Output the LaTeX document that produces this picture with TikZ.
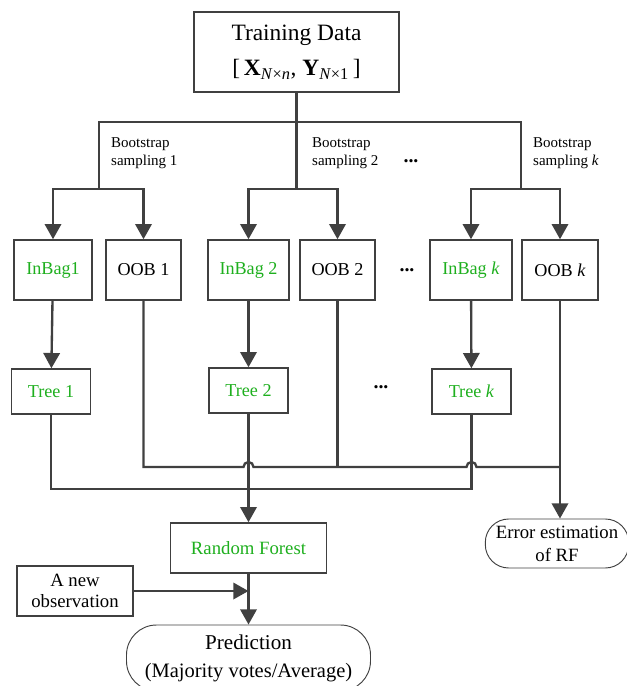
\documentclass[tikz,border=0pt]{standalone}
\usepackage{fontspec}
\setmainfont{Liberation Serif}
\usepackage{tikz}
\usetikzlibrary{arrows.meta, positioning, calc}
\usepackage{xcolor}
\definecolor{rfgray}{RGB}{64,64,64}
\definecolor{rfgreen}{RGB}{30,175,30}

\begin{document}
\begin{tikzpicture}[x=0.03cm,y=-0.03cm,
  box/.style={rectangle,draw=rfgray,line width=1.3pt,font=\fontsize{15.5}{18}\selectfont,
              minimum width=2.3cm,minimum height=1.8cm,inner sep=1pt,align=center},
  gbox/.style={box,text=rfgreen},
  tbox/.style={gbox,minimum width=2.36cm,minimum height=1.35cm},
  capsule/.style={rectangle,rounded corners=#1,draw=rfgray,line width=0.8pt,
                  font=\fontsize{16}{19.5}\selectfont,align=center,inner sep=1pt},
  lbl/.style={font=\fontsize{12.8}{15.5}\selectfont,align=left,anchor=west,inner sep=0pt},
  dots/.style={font=\fontsize{17}{17}\selectfont\bfseries,inner sep=0pt},
  line/.style={rfgray,line width=2pt},
  arr/.style={line,-{Triangle[width=14pt,length=13pt]}}
]
\useasboundingbox (0,0) rectangle (627,686);

% training data and bootstrap split
\node[box,font=\fontsize{20}{30}\selectfont,minimum width=6.15cm,minimum height=2.4cm] (train) at (296.5,52)
  {Training Data\\{[}\,\textbf{X}\textsubscript{\textit{N}×\textit{n}}, \textbf{Y}\textsubscript{\textit{N}×1}\,{]}};
\coordinate (h1) at (99,122);
\coordinate (hk) at (521,122);
\coordinate (s1) at (99,189);
\coordinate (s2) at (296.5,189);
\coordinate (sk) at (521,189);

\node[lbl] (lab1) at (111,153) {Bootstrap\\sampling 1};
\node[lbl] (lab2) at (312,153) {Bootstrap\\sampling 2};
\node[lbl] (labk) at (533,153) {Bootstrap\\sampling \textit{k}};
\node[dots] (dots1) at (411,161) {...};

% bags
\node[gbox,minimum width=2.34cm] (inbag1) at (53,270) {InBag1};
\node[box,minimum width=2.25cm] (oob1) at (143.5,270) {OOB 1};
\node[gbox,minimum width=2.43cm] (inbag2) at (248.5,270) {InBag 2};
\node[box,minimum width=2.25cm] (oob2) at (337.5,270) {OOB 2};
\node[dots] (dots2) at (407,270) {...};
\node[gbox,minimum width=2.46cm] (inbagk) at (471,270) {InBag \textit{k}};
\node[box,minimum width=2.28cm] (oobk) at (560,270) {OOB \textit{k}};

% trees
\node[tbox] (tree1) at (51,391.5) {Tree 1};
\node[tbox] (tree2) at (248.5,390.5) {Tree 2};
\node[dots] (dots3) at (381,387) {...};
\node[tbox] (treek) at (471.5,391.5) {Tree \textit{k}};

% outputs
\node[gbox,font=\fontsize{16}{19}\selectfont,minimum width=4.68cm,minimum height=1.5cm] (rf) at (248.5,548) {Random Forest};
\node[box,font=\fontsize{16}{18}\selectfont,minimum width=3.48cm,minimum height=1.5cm] (newobs) at (75,591) {A new\\observation};
\node[capsule=9mm,font=\fontsize{18}{24}\selectfont,minimum width=7.32cm,minimum height=1.98cm] (pred) at (248.5,658)
  {Prediction\\{\fontsize{17.5}{20}\selectfont(Majority votes/Average)}};
\node[capsule=7mm,minimum width=4.3cm,minimum height=1.47cm] (err) at (557,543.5) {Error estimation\\of RF};

\coordinate (obus) at (0,467);
\coordinate (tbus) at (0,489);

% split connectors
\draw[line] (train) -- (train |- h1);
\draw[line] (s1) -- (h1) -- (hk) -- (sk);
\draw[line] (train |- h1) -- (s2);
\draw[arr] (s1) -| (inbag1);
\draw[arr] (s1) -| (oob1);
\draw[arr] (s2) -| (inbag2);
\draw[arr] (s2) -| (oob2);
\draw[arr] (sk) -| (inbagk);
\draw[arr] (sk) -| (oobk);

\draw[arr] (inbag1) -- (tree1);
\draw[arr] (inbag2) -- (tree2);
\draw[arr] (inbagk) -- (treek);

% oob bus with hops
\draw[line] (oob1) -- (oob1 |- obus)
  -- ($(tree2 |- obus)+(-5,0)$) arc[start angle=180,end angle=0,radius=1.5mm]
  -- ($(treek |- obus)+(-5,0)$) arc[start angle=180,end angle=0,radius=1.5mm]
  -- (oobk |- obus);
\draw[line] (oob2) -- (oob2 |- obus);
\draw[arr] (oobk) -- (oobk |- err.north);

% tree bus
\draw[line] (tree1) -- (tree1 |- tbus) -- (treek |- tbus) -- (treek);
\draw[arr] (tree2) -- (rf);
\draw[arr] (rf) -- (pred);
\draw[arr] (newobs) -- (newobs -| rf);
\end{tikzpicture}
\end{document}
